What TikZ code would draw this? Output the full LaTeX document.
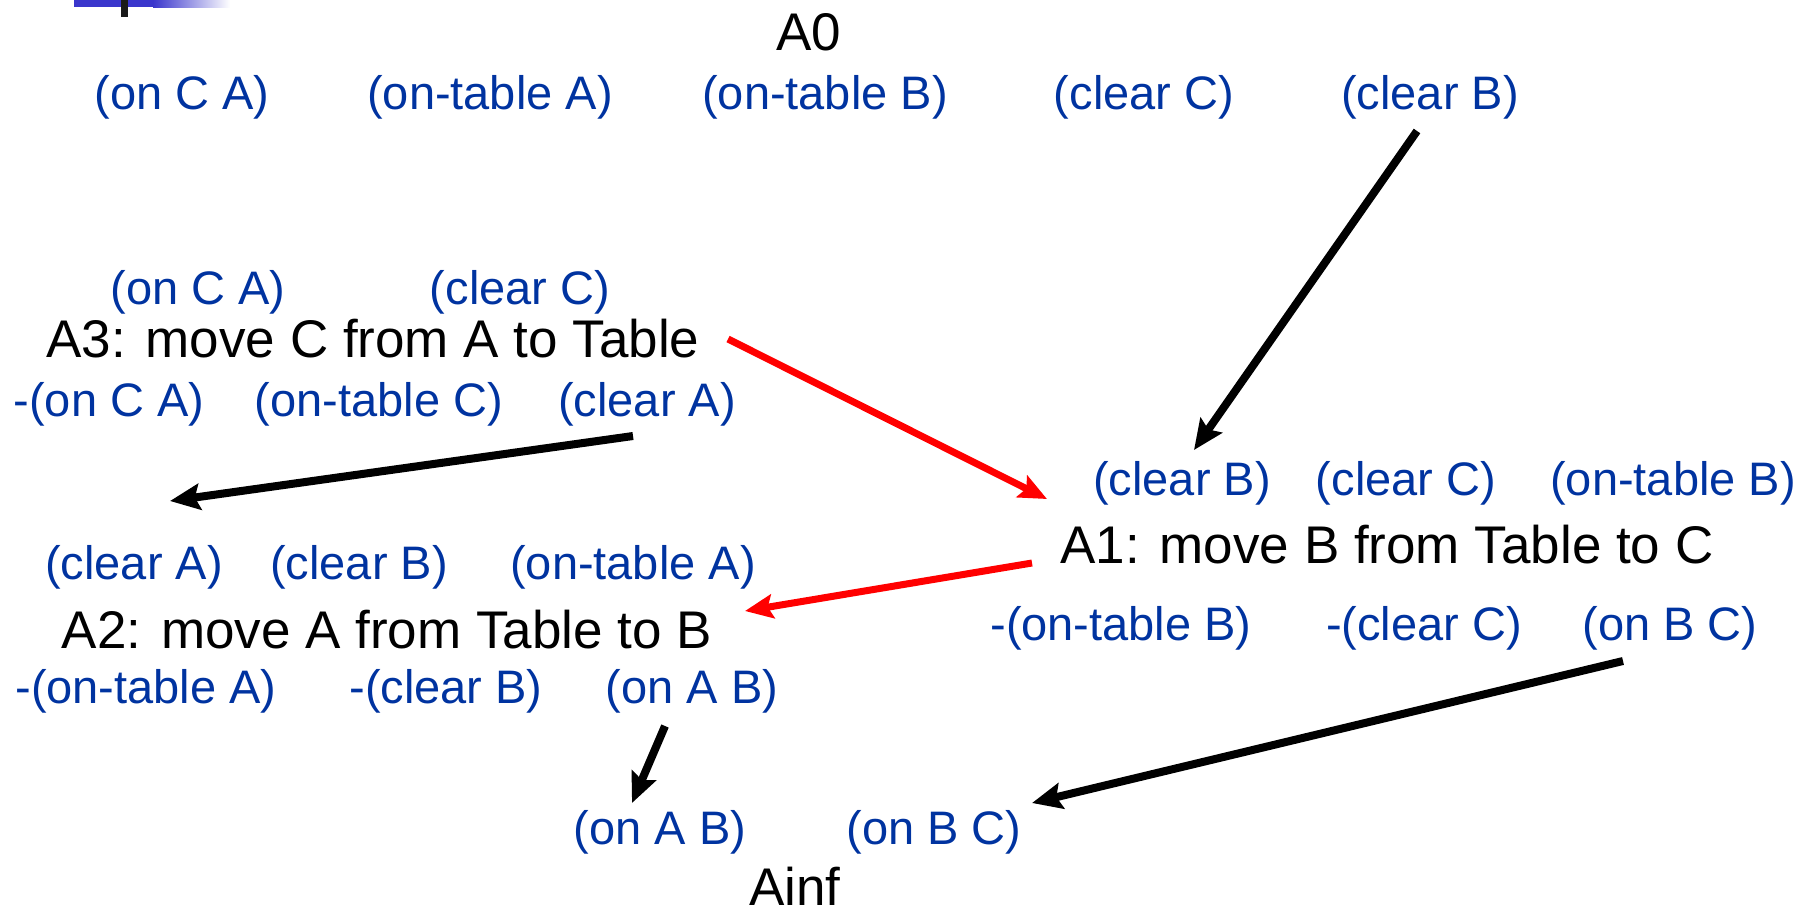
\documentclass[tikz,border=0pt]{standalone}
\usepackage{fontspec}
\setmainfont{Liberation Sans}
\usetikzlibrary{arrows.meta}
\definecolor{lblue}{RGB}{0,51,160}
\definecolor{barblue}{RGB}{58,54,204}
\begin{document}
\begin{tikzpicture}[x=1pt,y=-1pt,
  cond/.style={inner sep=0pt,anchor=base,text=lblue,font=\fontsize{47}{50}\selectfont},
  act/.style={inner sep=0pt,anchor=base,text=black,font=\fontsize{53}{56}\selectfont},
  blk/.style={line width=8pt,draw=black,-{Stealth[length=30pt,width=26pt,inset=5pt]}},
  redarr/.style={line width=7pt,draw=red,-{Stealth[length=28pt,width=24pt,inset=5pt]}}]
\useasboundingbox (0,0) rectangle (1818,913);
% slide artifacts top-left
\fill[barblue] (74,0) rectangle (153,7);
\shade[left color=barblue,right color=white] (153,0) rectangle (230,7);
\fill[black!90] (121,0) rectangle (128,17);
% A0
\node[act] (A0) at (809,50) {A0};
\node[cond] (t1) at (182,109) {(on C A)};
\node[cond] (t2) at (490,109) {(on-table A)};
\node[cond] (t3) at (825,109) {(on-table B)};
\node[cond] (t4) at (1144,109) {(clear C)};
\node[cond] (t5) at (1430,109) {(clear B)};
% A3
\node[cond] (p31) at (198,304) {(on C A)};
\node[cond] (p32) at (520,304) {(clear C)};
\node[act] (A3) at (373,357) {A3: move C from A to Table};
\node[cond] (e31) at (109,416) {-(on C A)};
\node[cond] (e32) at (379,416) {(on-table C)};
\node[cond] (e33) at (647,416) {(clear A)};
% A1
\node[cond] (p11) at (1182,495) {(clear B)};
\node[cond] (p12) at (1406,495) {(clear C)};
\node[cond] (p13) at (1673,495) {(on-table B)};
\node[act] (A1) at (1387,563) {A1: move B from Table to C};
\node[cond] (e11) at (1121,640) {-(on-table B)};
\node[cond] (e12) at (1424,640) {-(clear C)};
\node[cond] (e13) at (1670,640) {(on B C)};
% A2
\node[cond] (p21) at (134,579) {(clear A)};
\node[cond] (p22) at (359,579) {(clear B)};
\node[cond] (p23) at (633,579) {(on-table A)};
\node[act] (A2) at (387,648) {A2: move A from Table to B};
\node[cond] (e21) at (146,703) {-(on-table A)};
\node[cond] (e22) at (446,703) {-(clear B)};
\node[cond] (e23) at (692,703) {(on A B)};
% Ainf
\node[cond] (g1) at (660,844) {(on A B)};
\node[cond] (g2) at (934,844) {(on B C)};
\node[act] (Ainf) at (795,905) {Ainf};
% arrow end points
\coordinate (a1s) at (1417,131);
\coordinate (a1e) at (1194,450);
\coordinate (a2s) at (728,339);
\coordinate (a2e) at (1047,499);
\coordinate (a3s) at (633,436);
\coordinate (a3e) at (170,501);
\coordinate (a4s) at (1032,563);
\coordinate (a4e) at (745,611);
\coordinate (a5s) at (665,726);
\coordinate (a5e) at (632,803);
\coordinate (a6s) at (1623,661);
\coordinate (a6e) at (1032,803);
\draw[blk] (a1s) -- (a1e);
\draw[redarr] (a2s) -- (a2e);
\draw[blk] (a3s) -- (a3e);
\draw[redarr] (a4s) -- (a4e);
\draw[blk] (a5s) -- (a5e);
\draw[blk] (a6s) -- (a6e);
\end{tikzpicture}
\end{document}
